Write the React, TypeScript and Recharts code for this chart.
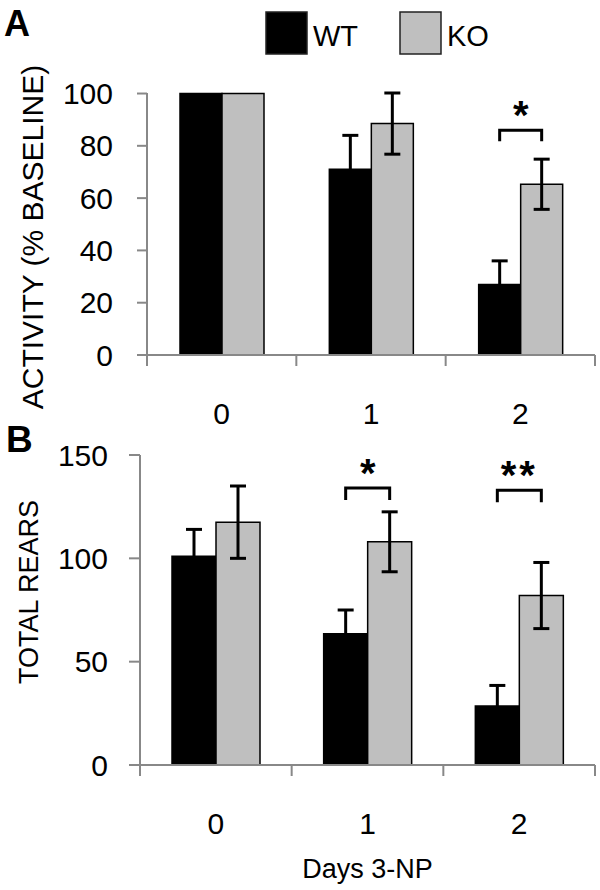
import { BarChart, Bar, XAxis, YAxis, ErrorBar, LabelList, Legend } from 'recharts';

const FONT = '"Liberation Sans", Arial, sans-serif';
const AXIS = '#888888';
const GRAY = '#bfbfbf';

// categories
const days = ['0', '1', '2'];
const seriesNames = ['WT', 'KO'];

// panel A: activity, % of baseline
const activityWT = [100, 71, 27];
const activityWTErr = [0, 13, 9];
const activityKO = [100, 88.5, 65.3];
const activityKOErr = [0, 11.7, 9.6];
const activitySig = ['', '', '*'];
const activityBracket = [null, null, 86];
const activityTicks = [0, 20, 40, 60, 80, 100];

// panel B: total rears
const rearsWT = [101, 63.5, 28.5];
const rearsWTErr = [13, 11.5, 10];
const rearsKO = [117.5, 108, 82];
const rearsKOErr = [17.5, 14.5, 16];
const rearsSig = ['', '*', '**'];
const rearsBracket = [null, 134, 133];
const rearsTicks = [0, 50, 100, 150];

interface Row {
  day: string;
  wt: number;
  wtErr: number;
  ko: number;
  koErr: number;
  sig: string;
  bracket: number | null;
}

const buildRows = (
  wt: number[],
  wtErr: number[],
  ko: number[],
  koErr: number[],
  sig: string[],
  bracket: (number | null)[],
): Row[] =>
  days.map((day, i) => ({
    day,
    wt: wt[i],
    wtErr: wtErr[i],
    ko: ko[i],
    koErr: koErr[i],
    sig: sig[i],
    bracket: bracket[i],
  }));

const activityRows = buildRows(activityWT, activityWTErr, activityKO, activityKOErr, activitySig, activityBracket);
const rearsRows = buildRows(rearsWT, rearsWTErr, rearsKO, rearsKOErr, rearsSig, rearsBracket);

// Excel style: tick marks between categories, label in the middle
const CategoryTick = (props: any) => {
  const { x, y, payload } = props;
  const half = payload?.offset ?? 0;
  const idx = days.indexOf(String(payload.value));
  return (
    <g>
      <line x1={x - half} x2={x - half} y1={y} y2={y + 11} stroke={AXIS} strokeWidth={2} />
      {idx === days.length - 1 && (
        <line x1={x + half} x2={x + half} y1={y} y2={y + 11} stroke={AXIS} strokeWidth={2} />
      )}
      <text x={x} y={y + 69} textAnchor="middle" fontSize={30} fontFamily={FONT} fill="#000">
        {payload.value}
      </text>
    </g>
  );
};

const yTitle = (text: string, baseX: number, dy: number, size: number) => (props: any) => {
  const vb = props.viewBox;
  const cy = vb.y + vb.height / 2 + dy;
  return (
    <text
      x={baseX}
      y={cy}
      transform={`rotate(-90 ${baseX} ${cy})`}
      textAnchor="middle"
      fontSize={size}
      fontFamily={FONT}
      fill="#000"
    >
      {text}
    </text>
  );
};

// significance bracket from WT centre to KO centre, drawn off the KO bar geometry
const makeBracket = (rows: Row[], leg: number) => (props: any) => {
  const vb = props.viewBox ?? props;
  const { x, y, width, height } = vb;
  const row = rows.find((r) => r.day === String(props.value));
  if (!row || row.bracket == null || !row.ko) return null;
  const perUnit = height / row.ko;
  const by = y + height - row.bracket * perUnit;
  const x1 = x - width / 2;
  const x2 = x + width / 2;
  return (
    <g>
      <path
        d={`M${x1},${by + leg} V${by} H${x2} V${by + leg}`}
        fill="none"
        stroke="#000"
        strokeWidth={3}
      />
      <text
        x={(x1 + x2) / 2}
        y={by - 1}
        textAnchor="middle"
        fontSize={40}
        fontWeight="bold"
        fontFamily={FONT}
        letterSpacing={row.sig.length > 1 ? 3 : 0}
        fill="#000"
      >
        {row.sig}
      </text>
    </g>
  );
};

const renderLegend = (props: any) => {
  const items = [...(props.payload ?? [])].sort(
    (a: any, b: any) => seriesNames.indexOf(a.value) - seriesNames.indexOf(b.value),
  );
  return (
    <svg width={600} height={60}>
      {items.map((item: any, i: number) => {
        const bx = 266 + i * 134;
        return (
          <g key={item.value}>
            <rect
              x={bx}
              y={12}
              width={41}
              height={42}
              fill={item.color}
              stroke="#222"
              strokeWidth={1.5}
            />
            <text x={bx + 47} y={46} fontSize={29} fontFamily={FONT} fill="#000">
              {item.value}
            </text>
          </g>
        );
      })}
    </svg>
  );
};

const axisLine = { stroke: AXIS, strokeWidth: 2 };
const yTick = { fill: '#000', fontSize: 30, fontFamily: FONT };

export default function App() {
  return (
    <div style={{ position: 'absolute', left: 0, top: 0, width: 600, height: 890, background: '#fff' }}>
      <div style={{ position: 'absolute', left: 0, top: 0 }}>
        <BarChart
          width={600}
          height={440}
          data={activityRows}
          margin={{ top: 93, right: 5, bottom: 0, left: 0 }}
          barGap={0}
          barSize={42}
        >
          <XAxis
            dataKey="day"
            height={85}
            axisLine={axisLine}
            tickLine={false}
            tickSize={0}
            tickMargin={0}
            interval={0}
            tick={<CategoryTick />}
          />
          <YAxis
            width={147}
            domain={[0, 100]}
            ticks={activityTicks}
            interval={0}
            axisLine={axisLine}
            tickLine={axisLine}
            tickSize={10}
            tickMargin={24}
            tick={yTick}
            label={{ content: yTitle('ACTIVITY (% BASELINE)', 43, 13, 30) }}
          />
          <Legend
            verticalAlign="middle"
            align="center"
            wrapperStyle={{ top: 0, left: 0, width: 600, height: 60 }}
            content={renderLegend}
          />
          <Bar dataKey="wt" name="WT" fill="#000" stroke="#000" strokeWidth={1.5} isAnimationActive={false}>
            <ErrorBar dataKey="wtErr" width={8} strokeWidth={3} stroke="#000" isAnimationActive={false} />
          </Bar>
          <Bar dataKey="ko" name="KO" fill={GRAY} stroke="#000" strokeWidth={1.5} isAnimationActive={false}>
            <ErrorBar dataKey="koErr" width={8} strokeWidth={3} stroke="#000" isAnimationActive={false} />
            <LabelList dataKey="day" content={makeBracket(activityRows, 11)} />
          </Bar>
        </BarChart>
      </div>

      <div style={{ position: 'absolute', left: 0, top: 440 }}>
        <BarChart
          width={600}
          height={450}
          data={rearsRows}
          margin={{ top: 15, right: 5, bottom: 0, left: 0 }}
          barGap={0}
          barSize={44}
        >
          <XAxis
            dataKey="day"
            height={125}
            axisLine={axisLine}
            tickLine={false}
            tickSize={0}
            tickMargin={0}
            interval={0}
            tick={<CategoryTick />}
            label={{
              value: 'Days 3-NP',
              position: 'insideBottom',
              offset: 12,
              fontSize: 27,
              fontFamily: FONT,
              fill: '#000',
            }}
          />
          <YAxis
            width={140}
            domain={[0, 150]}
            ticks={rearsTicks}
            interval={0}
            axisLine={axisLine}
            tickLine={axisLine}
            tickSize={11}
            tickMargin={21}
            tick={yTick}
            label={{ content: yTitle('TOTAL REARS', 38, -18, 27) }}
          />
          <Bar dataKey="wt" name="WT" fill="#000" stroke="#000" strokeWidth={1.5} isAnimationActive={false}>
            <ErrorBar dataKey="wtErr" width={8} strokeWidth={3} stroke="#000" isAnimationActive={false} />
          </Bar>
          <Bar dataKey="ko" name="KO" fill={GRAY} stroke="#000" strokeWidth={1.5} isAnimationActive={false}>
            <ErrorBar dataKey="koErr" width={8} strokeWidth={3} stroke="#000" isAnimationActive={false} />
            <LabelList dataKey="day" content={makeBracket(rearsRows, 12)} />
          </Bar>
        </BarChart>
      </div>

      <svg width={600} height={890} style={{ position: 'absolute', left: 0, top: 0, pointerEvents: 'none' }}>
        <text x={4} y={36} fontSize={36} fontWeight="bold" fontFamily={FONT} fill="#000">A</text>
        <text x={6} y={452} fontSize={37} fontWeight="bold" fontFamily={FONT} fill="#000">B</text>
      </svg>
    </div>
  );
}
